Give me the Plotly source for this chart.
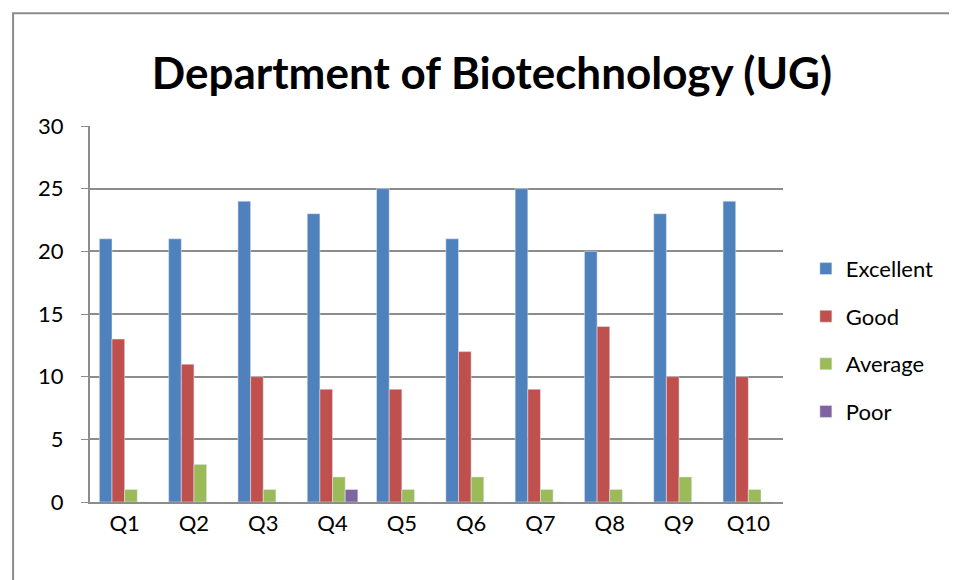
import plotly.graph_objects as go

# Survey results per question
questions = ["Q1", "Q2", "Q3", "Q4", "Q5", "Q6", "Q7", "Q8", "Q9", "Q10"]
excellent = [21, 21, 24, 23, 25, 21, 25, 20, 23, 24]
good = [13, 11, 10, 9, 9, 12, 9, 14, 10, 10]
average = [1, 3, 1, 2, 1, 2, 1, 1, 2, 1]
poor = [0, 0, 0, 1, 0, 0, 0, 0, 0, 0]

series = [
    ("Excellent", excellent, "#4F81BD"),
    ("Good", good, "#C0504D"),
    ("Average", average, "#9BBB59"),
    ("Poor", poor, "#8064A2"),
]

fig = go.Figure()
for name, values, colour in series:
    fig.add_trace(go.Bar(x = questions, y = values, name = name,
                         marker_color = colour, legendgroup = name))

# Outer chart frame
fig.add_shape(type = "rect", xref = "paper", yref = "paper",
              x0 = -0.111, x1 = 1.3, y0 = -0.3, y1 = 1.3,
              line = dict(color = "#8c8c8c", width = 2))

# page body adds an 8px offset, so the figure is 8px smaller
fig.update_layout(
    width = 949, height = 572,
    margin = dict(l = 82, r = 174, t = 118, b = 78),
    paper_bgcolor = "white", plot_bgcolor = "white",
    font = dict(family = "Lato, Open Sans, sans-serif", size = 22, color = "black"),
    title = dict(text = "<b>Department of Biotechnology (UG)</b>",
                 x = 0.51, xanchor = "center", y = 0.885, yanchor = "middle",
                 font = dict(size = 44)),
    barmode = "group", bargap = 0.27, bargroupgap = 0,
    legend = dict(x = 1.033, y = 0.43, xanchor = "left", yanchor = "middle",
                  tracegroupgap = 16, font = dict(size = 22)),
)
fig.update_yaxes(range = [0, 30], dtick = 5, showgrid = True,
                 gridcolor = "#8c8c8c", gridwidth = 1.5,
                 showline = True, linecolor = "#8c8c8c", linewidth = 2,
                 ticks = "outside", ticklen = 7, tickcolor = "#8c8c8c",
                 ticklabelstandoff = 13, zeroline = False)
fig.update_xaxes(showline = True, linecolor = "#8c8c8c", linewidth = 2,
                 ticks = "", ticklabelstandoff = 1)

fig.write_html("out.html")
